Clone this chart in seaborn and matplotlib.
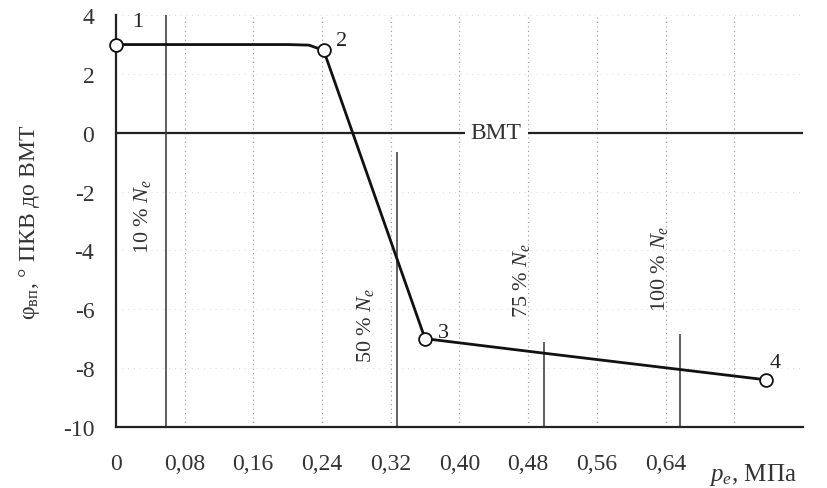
import matplotlib
matplotlib.use("Agg")
import matplotlib.pyplot as plt
import seaborn as sns
import pandas as pd
from matplotlib.ticker import MultipleLocator, FixedLocator, FixedFormatter

# curve phi vs pe (line with small bend before point 2)
line_x = [0.0, 0.20, 0.225, 0.242, 0.36, 0.50, 0.757]
line_y = [3.0, 3.0, 2.98, 2.8, -7.0, -7.5, -8.4]
# marked points 1..4
pt_x = [0.0, 0.242, 0.36, 0.757]
pt_y = [3.0, 2.8, -7.0, -8.4]
pt_names = ["1", "2", "3", "4"]

# load level lines
ne_x = [0.059, 0.327, 0.498, 0.657]
ne_top = [4.0, -0.65, -7.1, -6.85]
ne_names = ["10", "50", "75", "100"]
ne_lab_x = [0.031, 0.291, 0.472, 0.633]
ne_lab_y = [-2.8, -6.5, -5.0, -4.6]

xticks = [0, 0.08, 0.16, 0.24, 0.32, 0.40, 0.48, 0.56, 0.64, 0.72, 0.80]
xlabels = ["0", "0,08", "0,16", "0,24", "0,32", "0,40", "0,48", "0,56", "0,64", "", ""]
yticks = [4, 2, 0, -2, -4, -6, -8, -10]

sns.set_style("white")
plt.rcParams["font.family"] = ["Liberation Serif", "DejaVu Serif"]
plt.rcParams["mathtext.fontset"] = "custom"
plt.rcParams["mathtext.rm"] = "Liberation Serif"
plt.rcParams["mathtext.it"] = "Liberation Serif:italic"
plt.rcParams["axes.unicode_minus"] = False

fig = plt.figure(figsize=(8.27, 4.89), dpi=100)
ax = fig.add_axes([0.140, 0.125, 0.831, 0.842])

# dotted grid
for gx in xticks[1:]:
    ax.axvline(gx, color="#9a9a9a", lw=0.8, ls=(0, (1, 3)), zorder=0)
for gy in yticks:
    ax.axhline(gy, color="#c8c8c8", lw=0.6, ls=(0, (1, 6)), zorder=0)

# BMT line
ax.axhline(0, color="#222222", lw=1.6, zorder=1)
ax.text(0.443, 0, "ВМТ", ha="center", va="center", fontsize=17, color="#333333",
        bbox=dict(facecolor="white", edgecolor="none", pad=4), zorder=2)

# load lines
ax.vlines(ne_x, [-10] * 4, ne_top, color="#333333", lw=1.1, zorder=1)
for lx, ly, nm in zip(ne_lab_x, ne_lab_y, ne_names):
    ax.text(lx, ly, nm + r" % $\mathit{N_e}$", rotation=90, ha="center", va="center",
            fontsize=16, color="#333333")

df_line = pd.DataFrame({"pe": line_x, "phi": line_y})
sns.lineplot(data=df_line, x="pe", y="phi", ax=ax, color="#111111", lw=2.0,
             sort=False, zorder=3)
df_pt = pd.DataFrame({"pe": pt_x, "phi": pt_y})
sns.scatterplot(data=df_pt, x="pe", y="phi", ax=ax, s=85, color="white",
                edgecolor="#111111", linewidth=1.3, zorder=4, clip_on=False)

name_dx = [0.025, 0.021, 0.022, 0.011]
name_dy = [0.8, 0.35, 0.2, 0.6]
for px, py, nm, dx, dy in zip(pt_x, pt_y, pt_names, name_dx, name_dy):
    ax.text(px + dx, py + dy, nm, fontsize=16, color="#222222", ha="center", va="center")

ax.set_xlim(0, 0.80)
ax.set_ylim(-10, 4)
ax.xaxis.set_major_locator(FixedLocator(xticks))
ax.xaxis.set_major_formatter(FixedFormatter(xlabels))
ax.xaxis.set_minor_locator(MultipleLocator(0.04))
ax.yaxis.set_major_locator(FixedLocator(yticks))
ax.yaxis.set_minor_locator(MultipleLocator(1))
ax.tick_params(axis="both", which="major", direction="inout", length=11, width=1.4,
               colors="#222222", labelsize=17, labelcolor="#333333")
ax.tick_params(axis="both", which="minor", direction="in", length=6, width=1.2,
               colors="#222222")
ax.tick_params(axis="x", which="major", pad=13)
ax.tick_params(axis="y", which="major", pad=10)

for s in ["top", "right"]:
    ax.spines[s].set_visible(False)
for s in ["left", "bottom"]:
    ax.spines[s].set_color("#222222")
    ax.spines[s].set_linewidth(1.6)

ax.set_xlabel("")
ax.set_ylabel(r"φ$_{\mathrm{вп}}$, ° ПКВ до ВМТ", fontsize=17, color="#333333")
ax.yaxis.set_label_coords(-0.108, 0.5)
ax.text(0.742, -11.6, r"$p_e$, МПа", ha="center", va="center", fontsize=18,
        color="#333333")

fig.savefig("out.png", dpi=100)
